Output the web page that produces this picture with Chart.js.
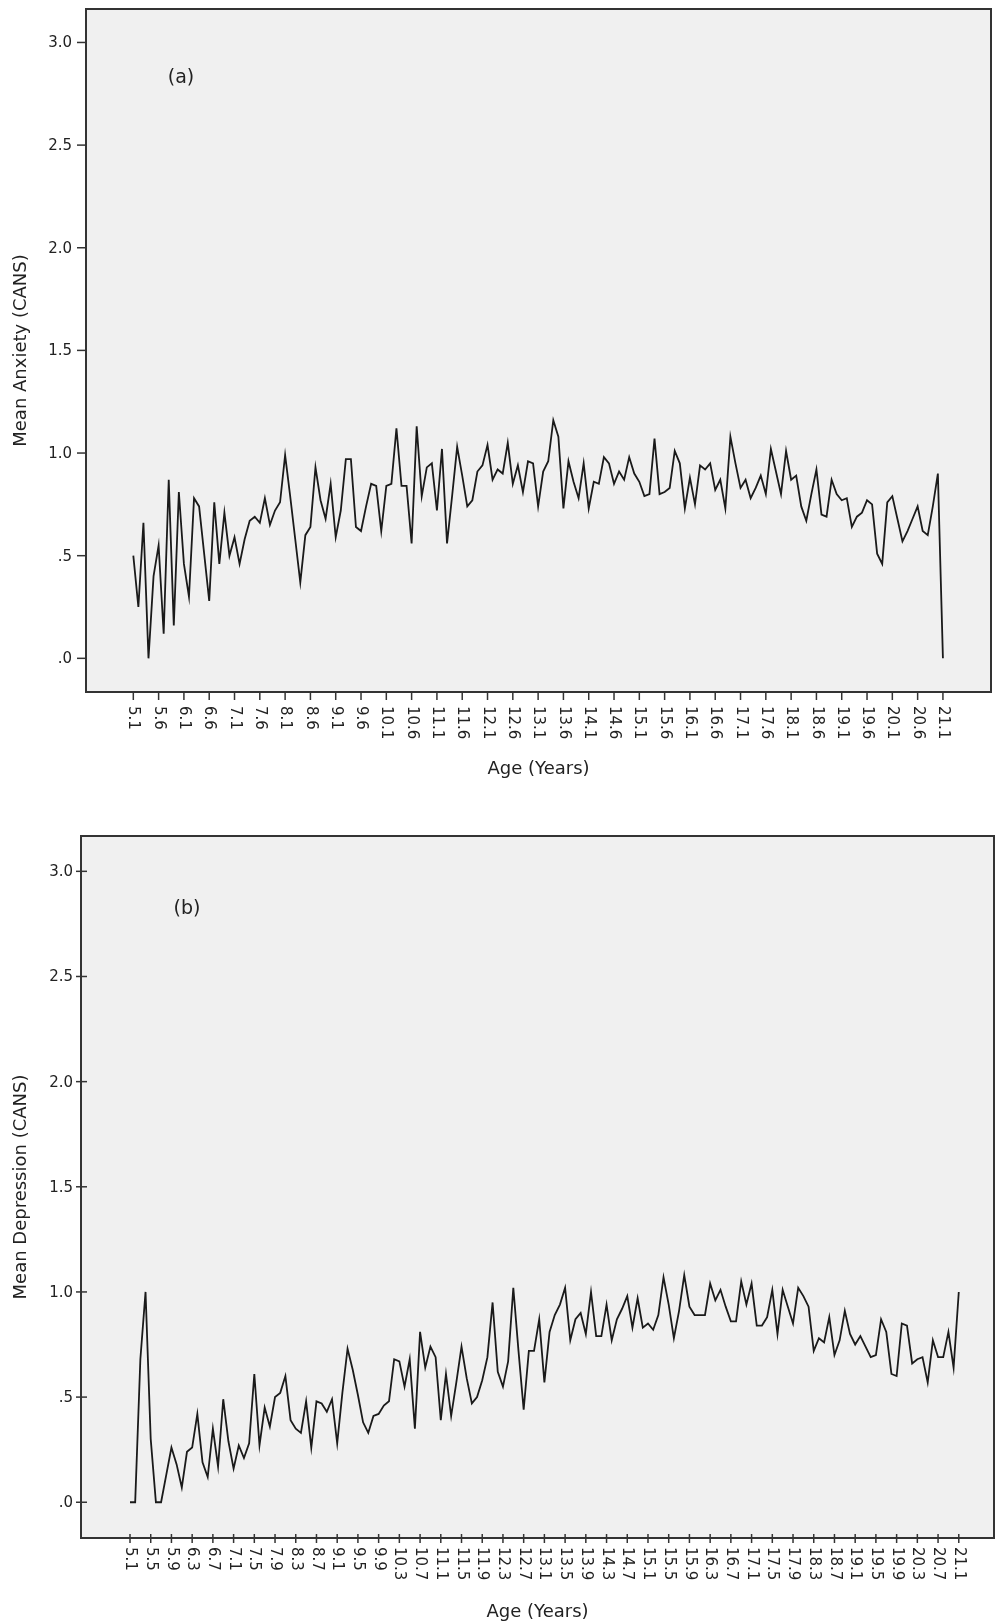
<!DOCTYPE html>
<html>
<head>
<meta charset="utf-8">
<script src="https://cdn.jsdelivr.net/npm/chart.js@4.4.1/dist/chart.umd.min.js"></script>
<style>
  html, body { margin: 0; padding: 0; background: #fff; }
  body { width: 995px; height: 1623px; position: relative; overflow: hidden; }
  canvas { position: absolute; left: 0; }
  #anxietyChart { top: 0; }
  #depressionChart { top: 800px; }
</style>
</head>
<body>
<canvas id="anxietyChart" width="995" height="800"></canvas>
<canvas id="depressionChart" width="995" height="823"></canvas>
<script>
// Age categories 5.1 .. 21.1 years, one every 0.1
const ages = Array.from({ length: 161 }, (_, i) => (51 + i) / 10);

const anxiety = [
    0.50, 0.25, 0.66, 0.00, 0.40, 0.55, 0.12, 0.87, 0.16, 0.81,
    0.46, 0.30, 0.78, 0.74, 0.51, 0.28, 0.76, 0.46, 0.71, 0.50,
    0.59, 0.46, 0.58, 0.67, 0.69, 0.66, 0.78, 0.65, 0.72, 0.76,
    0.99, 0.79, 0.58, 0.37, 0.60, 0.64, 0.93, 0.77, 0.68, 0.85,
    0.59, 0.72, 0.97, 0.97, 0.64, 0.62, 0.74, 0.85, 0.84, 0.62,
    0.84, 0.85, 1.12, 0.84, 0.84, 0.56, 1.13, 0.79, 0.93, 0.95,
    0.72, 1.02, 0.56, 0.79, 1.03, 0.89, 0.74, 0.77, 0.91, 0.94,
    1.04, 0.87, 0.92, 0.90, 1.05, 0.85, 0.94, 0.81, 0.96, 0.95,
    0.74, 0.91, 0.96, 1.16, 1.08, 0.73, 0.96, 0.86, 0.78, 0.95,
    0.73, 0.86, 0.85, 0.98, 0.95, 0.85, 0.91, 0.87, 0.98, 0.90,
    0.86, 0.79, 0.80, 1.07, 0.80, 0.81, 0.83, 1.01, 0.95, 0.73,
    0.88, 0.75, 0.94, 0.92, 0.95, 0.82, 0.87, 0.73, 1.08, 0.95,
    0.83, 0.87, 0.78, 0.83, 0.89, 0.80, 1.02, 0.91, 0.80, 1.01,
    0.87, 0.89, 0.74, 0.67, 0.80, 0.92, 0.70, 0.69, 0.87, 0.80,
    0.77, 0.78, 0.64, 0.69, 0.71, 0.77, 0.75, 0.51, 0.46, 0.76,
    0.79, 0.68, 0.57, 0.62, 0.68, 0.74, 0.62, 0.60, 0.74, 0.90,
    0.00
];

const depression = [
    0.00, 0.00, 0.68, 1.00, 0.30, 0.00, 0.00, 0.13, 0.26, 0.18,
    0.07, 0.24, 0.26, 0.42, 0.19, 0.12, 0.35, 0.17, 0.49, 0.29,
    0.16, 0.27, 0.21, 0.28, 0.61, 0.27, 0.45, 0.36, 0.50, 0.52,
    0.60, 0.39, 0.35, 0.33, 0.48, 0.26, 0.48, 0.47, 0.43, 0.49,
    0.28, 0.52, 0.73, 0.63, 0.51, 0.38, 0.33, 0.41, 0.42, 0.46,
    0.48, 0.68, 0.67, 0.55, 0.68, 0.35, 0.81, 0.64, 0.74, 0.69,
    0.39, 0.61, 0.41, 0.57, 0.74, 0.59, 0.47, 0.50, 0.58, 0.69,
    0.95, 0.62, 0.55, 0.67, 1.02, 0.72, 0.44, 0.72, 0.72, 0.87,
    0.57, 0.81, 0.89, 0.94, 1.02, 0.77, 0.87, 0.90, 0.80, 1.00,
    0.79, 0.79, 0.94, 0.77, 0.87, 0.92, 0.98, 0.83, 0.97, 0.83,
    0.85, 0.82, 0.89, 1.07, 0.94, 0.78, 0.91, 1.08, 0.93, 0.89,
    0.89, 0.89, 1.04, 0.96, 1.01, 0.93, 0.86, 0.86, 1.05, 0.94,
    1.04, 0.84, 0.84, 0.88, 1.01, 0.80, 1.01, 0.93, 0.85, 1.02,
    0.98, 0.93, 0.72, 0.78, 0.76, 0.88, 0.70, 0.77, 0.91, 0.80,
    0.75, 0.79, 0.74, 0.69, 0.70, 0.87, 0.81, 0.61, 0.60, 0.85,
    0.84, 0.66, 0.68, 0.69, 0.57, 0.77, 0.69, 0.69, 0.81, 0.64,
    1.00
];

const anxietyTicks = [
    "5.1", "5.6", "6.1", "6.6", "7.1", "7.6", "8.1", "8.6", "9.1", "9.6",
    "10.1", "10.6", "11.1", "11.6", "12.1", "12.6", "13.1", "13.6", "14.1", "14.6",
    "15.1", "15.6", "16.1", "16.6", "17.1", "17.6", "18.1", "18.6", "19.1", "19.6",
    "20.1", "20.6", "21.1"
];

const depressionTicks = [
    "5.1", "5.5", "5.9", "6.3", "6.7", "7.1", "7.5", "7.9", "8.3", "8.7",
    "9.1", "9.5", "9.9", "10.3", "10.7", "11.1", "11.5", "11.9", "12.3", "12.7",
    "13.1", "13.5", "13.9", "14.3", "14.7", "15.1", "15.5", "15.9", "16.3", "16.7",
    "17.1", "17.5", "17.9", "18.3", "18.7", "19.1", "19.5", "19.9", "20.3", "20.7",
    "21.1"
];

const yTickValues = [0, 0.5, 1, 1.5, 2, 2.5, 3];
const yTickLabels = [".0", ".5", "1.0", "1.5", "2.0", "2.5", "3.0"];

const FONT = '"DejaVu Sans", sans-serif';
const INK = "#222";

// Draws the SPSS style frame, ticks and texts around the plot area
function framePlugin(o) {
    return {
        id: "spssFrame",
        beforeDatasetsDraw(chart) {
            const { ctx, chartArea: a } = chart;
            ctx.save();
            ctx.fillStyle = "#f0f0f0";
            ctx.fillRect(a.left, a.top, a.right - a.left, a.bottom - a.top);
            ctx.restore();
        },
        afterDraw(chart) {
            const { ctx, chartArea: a, scales } = chart;
            ctx.save();
            ctx.strokeStyle = "#333";
            ctx.lineWidth = 2;
            ctx.strokeRect(a.left, a.top, a.right - a.left, a.bottom - a.top);

            ctx.fillStyle = INK;
            ctx.lineWidth = 1.5;
            ctx.font = "15px " + FONT;

            // y axis
            ctx.textAlign = "right";
            ctx.textBaseline = "middle";
            yTickValues.forEach((v, i) => {
                const py = scales.y.getPixelForValue(v);
                ctx.beginPath();
                ctx.moveTo(a.left - o.yTickOut, py);
                ctx.lineTo(a.left + o.yTickIn, py);
                ctx.stroke();
                ctx.fillText(yTickLabels[i], a.left - o.yLabelGap, py + 1);
            });

            // x axis, labels rotated to read top to bottom
            o.xTicks.forEach(label => {
                const px = scales.x.getPixelForValue(parseFloat(label));
                ctx.beginPath();
                ctx.moveTo(px, a.bottom - o.xTickIn);
                ctx.lineTo(px, a.bottom + o.xTickOut);
                ctx.stroke();
                ctx.save();
                ctx.translate(px, a.bottom + o.xLabelGap);
                ctx.rotate(Math.PI / 2);
                ctx.textAlign = "left";
                ctx.textBaseline = "middle";
                ctx.fillText(label, 0, 0);
                ctx.restore();
            });

            // axis titles
            ctx.font = "18px " + FONT;
            ctx.textAlign = "center";
            ctx.textBaseline = "middle";
            ctx.fillText("Age (Years)", (a.left + a.right) / 2, o.xTitleY);
            ctx.save();
            ctx.translate(21, (a.top + a.bottom) / 2);
            ctx.rotate(-Math.PI / 2);
            ctx.fillText(o.yTitle, 0, 0);
            ctx.restore();

            // panel letter
            ctx.font = "19px " + FONT;
            ctx.fillText(o.letter, o.letterX, o.letterY);
            ctx.restore();
        }
    };
}

function buildChart(id, values, o) {
    return new Chart(document.getElementById(id), {
        type: "line",
        data: {
            datasets: [{
                data: ages.map((age, i) => ({ x: age, y: values[i] })),
                borderColor: "#1a1a1a",
                borderWidth: 1.8,
                pointRadius: 0,
                tension: 0,
                fill: false,
            }]
        },
        options: {
            responsive: false,
            animation: false,
            devicePixelRatio: 1,
            layout: { padding: o.padding },
            plugins: {
                legend: { display: false },
                tooltip: { enabled: false },
            },
            scales: {
                x: { type: "linear", min: o.xMin, max: o.xMax, display: false },
                y: { min: o.yMin, max: o.yMax, display: false },
            },
        },
        plugins: [framePlugin(o)],
    });
}

buildChart("anxietyChart", anxiety, {
    padding: { left: 86, top: 9, right: 4, bottom: 108 },
    xMin: 4.165, xMax: 22.05, yMin: -0.164, yMax: 3.163,
    xTicks: anxietyTicks,
    yTickOut: 9, yTickIn: 0, yLabelGap: 14,
    xTickOut: 8, xTickIn: 0, xLabelGap: 14,
    xTitleY: 769,
    yTitle: "Mean Anxiety (CANS)",
    letter: "(a)", letterX: 181, letterY: 78,
});

buildChart("depressionChart", depression, {
    padding: { left: 81, top: 36, right: 1, bottom: 85 },
    xMin: 4.154, xMax: 21.78, yMin: -0.17, yMax: 3.168,
    xTicks: depressionTicks,
    yTickOut: 5, yTickIn: 6, yLabelGap: 8,
    xTickOut: 5, xTickIn: 4, xLabelGap: 9,
    xTitleY: 812,
    yTitle: "Mean Depression (CANS)",
    letter: "(b)", letterX: 187, letterY: 109,
});
</script>
</body>
</html>
